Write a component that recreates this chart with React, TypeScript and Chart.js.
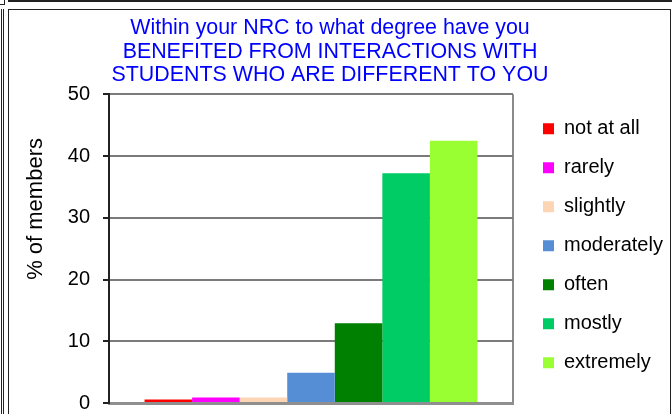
import React, { useEffect, useRef } from "react";
import { Chart, registerables } from "chart.js";

Chart.register(...registerables);

const titleLines = [
  "Within your NRC to what degree have you",
  "BENEFITED FROM INTERACTIONS WITH",
  "STUDENTS WHO ARE DIFFERENT TO YOU",
];
const categories = ["not at all", "rarely", "slightly", "moderately", "often", "mostly", "extremely"];
const values = [0.55, 0.9, 0.9, 4.9, 12.9, 37.2, 42.5];
const barColors = ["#FF0000", "#FF00FF", "#FCD5B4", "#558ED5", "#008000", "#00CC66", "#99FF33"];
const yAxisTitle = "             % of members";
const yMin = 0;
const yMax = 50;
const yStep = 10;

const FONT = "'Liberation Sans', Arial, Helvetica, sans-serif";

const legendNudge = {
  id: "legendNudge",
  afterLayout(chart: any) {
    const l = chart.legend;
    if (l) {
      l.left += 11;
      l.right += 11;
      l.top -= 3;
      l.bottom -= 3;
    }
  },
};

export default function App() {
  const ref = useRef<HTMLCanvasElement | null>(null);

  useEffect(() => {
    document.body.style.margin = "0";
    if (!ref.current) return;
    Chart.defaults.font.family = FONT;
    const chart = new Chart(ref.current, {
      type: "bar",
      data: {
        labels: [""],
        datasets: categories.map((c, i) => ({
          label: c,
          data: [values[i]],
          backgroundColor: barColors[i],
          borderWidth: 0,
          barPercentage: 1,
          categoryPercentage: 0.824,
        })),
      },
      options: {
        animation: false,
        responsive: false,
        layout: { padding: { left: 4, right: 16, top: 0, bottom: 11 } },
        plugins: {
          title: {
            display: true,
            text: titleLines,
            color: "#0000FF",
            font: { size: 21.4, weight: "normal", lineHeight: 1.08, family: FONT },
            padding: { top: 17, bottom: 8 },
          },
          legend: {
            position: "right",
            fullSize: false,
            maxWidth: 143,
            labels: {
              boxWidth: 11,
              boxHeight: 11,
              padding: 19,
              color: "#000",
              font: { size: 20, family: FONT },
            },
          },
          tooltip: { enabled: false },
        },
        scales: {
          x: {
            ticks: { display: false },
            grid: { display: true, offset: true, drawTicks: false, color: "#8a8a8a", lineWidth: 2 },
            border: { display: true, color: "#8f8f8f", width: 3 },
            afterFit(scale: any) {
              scale.height = 0;
              scale.paddingLeft = 0;
              scale.paddingRight = 0;
            },
          },
          y: {
            min: yMin,
            max: yMax,
            ticks: { stepSize: yStep, color: "#000", padding: 13, font: { size: 20, family: FONT } },
            grid: { color: "#7a7a7a", lineWidth: 2, tickLength: 6, tickColor: "#222" },
            border: { display: true, color: "#222", width: 2 },
            title: {
              display: true,
              text: yAxisTitle,
              color: "#000",
              font: { size: 22, family: FONT },
              padding: { top: 19, bottom: 0 },
            },
            afterFit(scale: any) {
              scale.width = 105;
              scale.paddingTop = 0;
              scale.paddingBottom = 0;
            },
          },
        },
      },
      plugins: [legendNudge],
    });
    return () => chart.destroy();
  }, []);

  const line = (s: React.CSSProperties) => (
    <div style={{ position: "absolute", background: "#222", ...s }} />
  );

  return (
    <div style={{ position: "relative", width: 672, height: 414, overflow: "hidden", background: "#fff" }}>
      {line({ left: 0, top: 4, width: 5, height: 1 })}
      {line({ left: 4, top: 0, width: 1, height: 5 })}
      {line({ left: 8, top: 0, width: 664, height: 2 })}
      {line({ left: 1, top: 9, width: 1, height: 405 })}
      {line({ left: 3, top: 9, width: 1, height: 405 })}
      {line({ left: 8, top: 9, width: 663, height: 1 })}
      {line({ left: 8, top: 9, width: 1, height: 405 })}
      {line({ left: 670, top: 9, width: 1, height: 405 })}
      <canvas ref={ref} width={672} height={414} style={{ position: "absolute", left: 0, top: 0 }} />
    </div>
  );
}
